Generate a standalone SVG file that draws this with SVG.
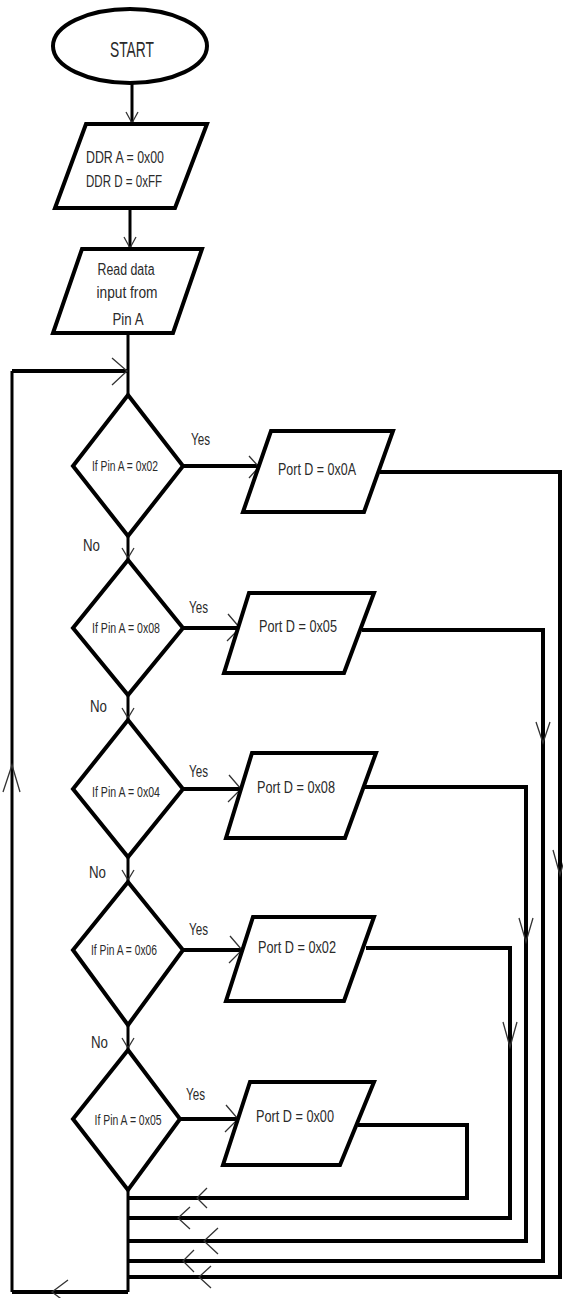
<svg xmlns="http://www.w3.org/2000/svg" width="563" height="1298" viewBox="0 0 563 1298">
<style>
.shape{fill:#fff;stroke:#000;stroke-width:4;stroke-linejoin:miter}
.line{fill:none;stroke:#000;stroke-width:4}
.thin{fill:none;stroke:#000;stroke-width:3}
.arrow{fill:none;stroke:#333;stroke-width:1.3}
text{font-family:"Liberation Sans",Arial,sans-serif;fill:#2a2a2a;text-anchor:middle}
.t15{font-size:16px}
.t12{font-size:14px}
.lbl{font-size:16px;text-anchor:start}
</style>
<rect width="563" height="1298" fill="#fff"/>
<g id="connectors">
<path class="thin" d="M132 83 V124"/>
<path class="thin" d="M130 208 V249"/>
<path class="thin" d="M128 333 V395"/>
<path class="thin" d="M128 536 V560"/>
<path class="thin" d="M128 695 V720"/>
<path class="thin" d="M128 857 V882"/>
<path class="thin" d="M128 1025 V1050"/>
<path class="line" d="M183 466 H259"/>
<path class="line" d="M183 628 H240"/>
<path class="line" d="M183 789 H241"/>
<path class="line" d="M183 950 H242"/>
<path class="line" d="M180 1119 H238"/>
<path class="line" d="M380 472 H560 V1277 H128"/>
<path class="line" d="M362 630 H543 V1261 H128"/>
<path class="line" d="M363 787 H526 V1241 H128"/>
<path class="line" d="M366 948 H510 V1218 H128"/>
<path class="line" d="M358 1125 H467 V1198 H128"/>
<path class="thin" d="M128 1190 V1292"/>
<path class="line" d="M128 1292 H12"/>
<path class="thin" d="M12 1292 V371"/>
<path class="line" d="M12 371 H128"/>
<path class="arrow" d="M126 112 L132 123 L138 112"/>
<path class="arrow" d="M124 237 L130 248 L136 237"/>
<path class="arrow" d="M112 358 L127 371 L112 385"/>
<path class="arrow" d="M122 548 L128 558 L134 548"/>
<path class="arrow" d="M122 708 L128 718 L134 708"/>
<path class="arrow" d="M122 870 L128 880 L134 870"/>
<path class="arrow" d="M122 1038 L128 1048 L134 1038"/>
<path class="arrow" d="M249 456 L259 467 L249 478"/>
<path class="arrow" d="M228 614 L240 628 L227 641"/>
<path class="arrow" d="M229 775 L241 789 L228 802"/>
<path class="arrow" d="M230 936 L242 950 L229 963"/>
<path class="arrow" d="M226 1105 L238 1119 L225 1132"/>
<path class="arrow" d="M536 722 L543 743 L550 722"/>
<path class="arrow" d="M553 850 L560 875 L567 850"/>
<path class="arrow" d="M519 918 L526 942 L533 918"/>
<path class="arrow" d="M503 1022 L510 1047 L517 1022"/>
<path class="arrow" d="M3 792 L12 765 L20 792"/>
<path class="arrow" d="M207 1188 L197 1198 L207 1208"/>
<path class="arrow" d="M190 1207 L178 1218 L190 1229"/>
<path class="arrow" d="M218 1228 L204 1241 L218 1254"/>
<path class="arrow" d="M194 1250 L183 1261 L194 1272"/>
<path class="arrow" d="M211 1266 L199 1277 L211 1288"/>
<path class="arrow" d="M68 1280 L52 1292 L68 1304"/>
</g>
<g id="start">
<ellipse class="shape" cx="130" cy="46" rx="77" ry="37"/>
<text x="132" y="57" font-size="22" textLength="44" lengthAdjust="spacingAndGlyphs">START</text>
</g>
<g id="init">
<polygon class="shape" points="86,124 207,124 175,208 55,208"/>
<text class="t15" x="125" y="163" textLength="78" lengthAdjust="spacingAndGlyphs">DDR A = 0x00</text>
<text class="t15" x="124" y="187" textLength="76" lengthAdjust="spacingAndGlyphs">DDR D = 0xFF</text>
</g>
<g id="read">
<polygon class="shape" points="82,249 202,249 173,333 53,333"/>
<text class="t15" x="126" y="275" textLength="57" lengthAdjust="spacingAndGlyphs">Read data</text>
<text class="t15" x="127" y="298" textLength="61" lengthAdjust="spacingAndGlyphs">input from</text>
<text class="t15" x="128" y="325" textLength="31" lengthAdjust="spacingAndGlyphs">Pin A</text>
</g>
<g id="dec1">
<polygon class="shape" points="128,395 183,466 128,536 73,466"/>
<text class="t12" x="125" y="471" textLength="66" lengthAdjust="spacingAndGlyphs">If Pin A = 0x02</text>
<text class="lbl" x="191" y="445" textLength="19" lengthAdjust="spacingAndGlyphs">Yes</text>
<text class="lbl" x="83" y="551" textLength="17" lengthAdjust="spacingAndGlyphs">No</text>
</g>
<g id="out1">
<polygon class="shape" points="271,431 393,431 364,512 243,512"/>
<text class="t15" x="317" y="475" textLength="78" lengthAdjust="spacingAndGlyphs">Port D = 0x0A</text>
</g>
<g id="dec2">
<polygon class="shape" points="128,560 183,628 128,695 73,628"/>
<text class="t12" x="126" y="633" textLength="68" lengthAdjust="spacingAndGlyphs">If Pin A = 0x08</text>
<text class="lbl" x="189" y="613" textLength="19" lengthAdjust="spacingAndGlyphs">Yes</text>
<text class="lbl" x="90" y="712" textLength="17" lengthAdjust="spacingAndGlyphs">No</text>
</g>
<g id="out2">
<polygon class="shape" points="249,593 374,593 344,673 224,673"/>
<text class="t15" x="298" y="632" textLength="78" lengthAdjust="spacingAndGlyphs">Port D = 0x05</text>
</g>
<g id="dec3">
<polygon class="shape" points="128,720 183,789 128,857 73,789"/>
<text class="t12" x="126" y="797" textLength="68" lengthAdjust="spacingAndGlyphs">If Pin A = 0x04</text>
<text class="lbl" x="189" y="777" textLength="19" lengthAdjust="spacingAndGlyphs">Yes</text>
<text class="lbl" x="89" y="878" textLength="17" lengthAdjust="spacingAndGlyphs">No</text>
</g>
<g id="out3">
<polygon class="shape" points="252,753 376,753 345,838 226,838"/>
<text class="t15" x="296" y="793" textLength="78" lengthAdjust="spacingAndGlyphs">Port D = 0x08</text>
</g>
<g id="dec4">
<polygon class="shape" points="128,882 183,950 128,1025 73,950"/>
<text class="t12" x="124" y="955" textLength="66" lengthAdjust="spacingAndGlyphs">If Pin A = 0x06</text>
<text class="lbl" x="189" y="935" textLength="19" lengthAdjust="spacingAndGlyphs">Yes</text>
<text class="lbl" x="91" y="1048" textLength="17" lengthAdjust="spacingAndGlyphs">No</text>
</g>
<g id="out4">
<polygon class="shape" points="253,917 374,917 344,1001 226,1001"/>
<text class="t15" x="297" y="953" textLength="78" lengthAdjust="spacingAndGlyphs">Port D = 0x02</text>
</g>
<g id="dec5">
<polygon class="shape" points="128,1050 180,1119 128,1190 73,1119"/>
<text class="t12" x="128" y="1125" textLength="67" lengthAdjust="spacingAndGlyphs">If Pin A = 0x05</text>
<text class="lbl" x="186" y="1100" textLength="19" lengthAdjust="spacingAndGlyphs">Yes</text>
</g>
<g id="out5">
<polygon class="shape" points="250,1082 374,1082 340,1165 223,1165"/>
<text class="t15" x="295" y="1122" textLength="78" lengthAdjust="spacingAndGlyphs">Port D = 0x00</text>
</g>
</svg>
